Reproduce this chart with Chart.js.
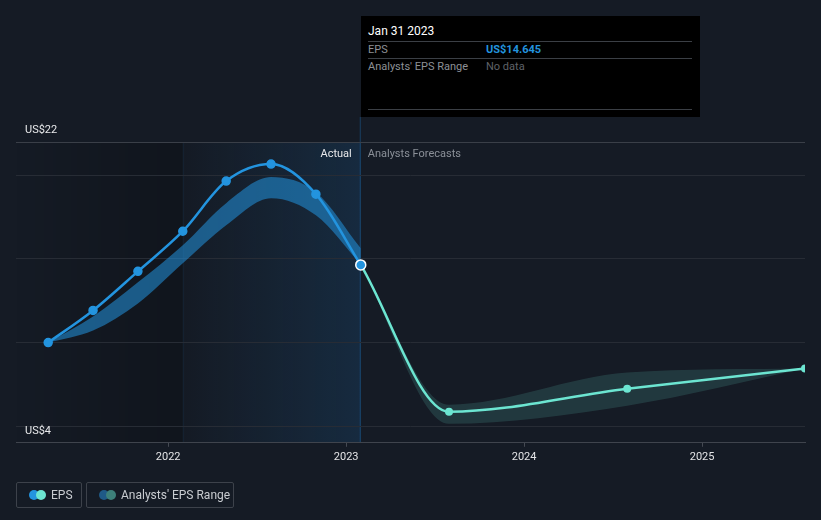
<!DOCTYPE html>
<html>
<head>
<meta charset="utf-8">
<script src="https://cdn.jsdelivr.net/npm/chart.js@4/dist/chart.umd.min.js"></script>
<style>
  html, body { margin: 0; padding: 0; background: #151b25; }
  body { width: 821px; height: 520px; position: relative; overflow: hidden; font-family: Roboto, "Noto Sans", sans-serif; }
  #wrap { position: absolute; left: 0; top: 0; width: 821px; height: 520px; }
  .tip { position: absolute; left: 361px; top: 16px; width: 339px; height: 101px; background: #000; font-size: 11px; }
  .tip .row { position: absolute; left: 7px; width: 324px; }
  .tip .line { position: absolute; left: 7px; width: 324px; height: 1px; background: #3b3f45; }
  .tip .val { position: absolute; left: 118px; }
  .legend { position: absolute; top: 482px; height: 26px; border: 1px solid #3d424b; border-radius: 2px; box-sizing: border-box; color: #c9ccd1; font-size: 12px; line-height: 24px; }
  .dots { position: absolute; left: 12px; top: 7px; width: 20px; height: 10px; }
  .dots i { position: absolute; top: 0; width: 10px; height: 10px; border-radius: 50%; }
</style>
</head>
<body>
<div id="wrap"><canvas id="chart" width="821" height="520"></canvas></div>

<div class="tip">
  <div class="row" style="top:8px;color:#fff;font-size:12px;">Jan 31 2023</div>
  <div class="line" style="top:25px"></div>
  <div class="row" style="top:27px;color:#8d9096;">EPS<span class="val" style="color:#2394df;font-weight:bold;">US$14.645</span></div>
  <div class="line" style="top:42px"></div>
  <div class="row" style="top:44px;color:#8d9096;">Analysts' EPS Range<span class="val" style="color:#5f6268;">No data</span></div>
  <div class="line" style="top:93px"></div>
</div>

<div class="legend" style="left:16px;width:66px;">
  <div class="dots"><i style="left:0;background:#2394df"></i><i style="left:7px;background:#6ce5d1"></i></div>
  <span style="position:absolute;left:34px;">EPS</span>
</div>
<div class="legend" style="left:86px;width:148px;">
  <div class="dots"><i style="left:0;background:#1f5a87"></i><i style="left:7px;background:#3d807a"></i></div>
  <span style="position:absolute;left:34px;">Analysts' EPS Range</span>
</div>

<script>
// ---- data ----
var actualDates = ['2021-04-30', '2021-07-31', '2021-10-31', '2022-01-31', '2022-04-30', '2022-07-31', '2022-10-31', '2023-01-31'];
var actualEps = [10.0, 11.92, 14.26, 16.66, 19.66, 20.68, 18.88, 14.645];
var actualLow = [10.0, 10.72, 12.34, 14.74, 17.02, 18.64, 17.62, 14.68];
var actualHigh = [10.0, 11.56, 13.6, 15.82, 18.34, 19.9, 19.0, 15.64];

var forecastDates = ['2023-01-31', '2023-07-31', '2024-07-31', '2025-07-31'];
var forecastEps = [14.645, 5.86, 7.24, 8.44];
var forecastLow = [14.645, 5.14, 6.22, 8.44];
var forecastHigh = [14.645, 6.28, 8.2, 8.44];

var xTickLabels = [2022, 2023, 2024, 2025];
var yGridValues = [5, 10, 15, 20, 22];
var yLabels = [22, 4];
var axisStart = '2021-02-23';
var axisEnd = '2025-07-31';
var highlightStart = '2022-01-31';
var todayDate = '2023-01-31';

function decYear(s) {
  var p = s.split('-').map(Number);
  var t0 = Date.UTC(p[0], 0, 1), t1 = Date.UTC(p[0] + 1, 0, 1);
  return p[0] + (Date.UTC(p[0], p[1] - 1, p[2]) - t0) / (t1 - t0);
}
function pts(dates, vals) {
  return dates.map(function (d, i) { return { x: decYear(d), y: vals[i] }; });
}

var BLUE = '#2394df', TEAL = '#6ce5d1';

var backdrop = {
  id: 'backdrop',
  beforeDraw: function (chart) {
    var c = chart.ctx, a = chart.chartArea, x = chart.scales.x;
    var xh = x.getPixelForValue(decYear(highlightStart));
    var xt = x.getPixelForValue(decYear(todayDate));
    c.save();
    var g1 = c.createLinearGradient(a.left, 0, xh, 0);
    g1.addColorStop(0, 'rgba(0,0,0,0)');
    g1.addColorStop(1, 'rgba(0,0,0,0.22)');
    c.fillStyle = g1;
    c.fillRect(a.left, a.top, xh - a.left, a.bottom - a.top);
    var g2 = c.createLinearGradient(xh, 0, xt, 0);
    g2.addColorStop(0, 'rgba(33,150,243,0.0)');
    g2.addColorStop(1, 'rgba(33,150,243,0.13)');
    c.fillStyle = g2;
    c.fillRect(xh, a.top, xt - xh, a.bottom - a.top);
    c.fillStyle = 'rgba(33,150,243,0.07)';
    c.fillRect(xh, a.top, 1, a.bottom - a.top);
    c.fillStyle = 'rgba(33,150,243,0.3)';
    c.fillRect(xt - 1, 117, 1, a.bottom - 117);
    c.restore();
  },
  afterDraw: function (chart) {
    var c = chart.ctx, y = chart.scales.y, x = chart.scales.x, a = chart.chartArea;
    var xt = x.getPixelForValue(decYear(todayDate));
    c.save();
    c.font = '11px Roboto, "Noto Sans", sans-serif';
    c.textBaseline = 'middle';
    c.fillStyle = '#e8e9eb';
    c.textAlign = 'left';
    yLabels.forEach(function (v) {
      c.fillText('US$' + v, a.left + 9, y.getPixelForValue(v) - 12);
    });
    c.textAlign = 'right';
    c.fillText('Actual', xt - 9, a.top + 12);
    c.textAlign = 'left';
    c.fillStyle = '#8b9098';
    c.fillText('Analysts Forecasts', xt + 7, a.top + 12);
    c.restore();
  }
};

new Chart(document.getElementById('chart').getContext('2d'), {
  type: 'line',
  data: {
    datasets: [
      { data: pts(actualDates, actualEps), borderColor: BLUE, backgroundColor: BLUE, borderWidth: 2.5, fill: false, order: 0,
        pointRadius: function (ctx) { return ctx.dataIndex === actualEps.length - 1 ? 5 : 4; },
        pointBorderColor: function (ctx) { return ctx.dataIndex === actualEps.length - 1 ? '#ffffff' : BLUE; },
        pointBorderWidth: 1.5 },
      { data: pts(forecastDates, forecastEps), borderColor: TEAL, backgroundColor: TEAL, borderWidth: 2.5, fill: false, order: 1, clip: 0,
        pointRadius: function (ctx) { return ctx.dataIndex === 0 ? 0 : 4; }, pointBorderWidth: 0 },
      { data: pts(actualDates, actualHigh), borderWidth: 0, pointRadius: 0, fill: '+1', backgroundColor: 'rgba(35,148,223,0.55)', order: 2 },
      { data: pts(actualDates, actualLow), borderWidth: 0, pointRadius: 0, fill: false, order: 3 },
      { data: pts(forecastDates, forecastHigh), borderWidth: 0, pointRadius: 0, fill: '+1', backgroundColor: 'rgba(108,229,209,0.15)', order: 4 },
      { data: pts(forecastDates, forecastLow), borderWidth: 0, pointRadius: 0, fill: false, order: 5 }
    ]
  },
  options: {
    responsive: false,
    animation: false,
    events: [],
    datasets: { line: { cubicInterpolationMode: 'monotone' } },
    layout: { padding: { left: 16, right: 16, top: 142, bottom: 52 } },
    plugins: { legend: { display: false }, tooltip: { enabled: false } },
    scales: {
      x: {
        type: 'linear',
        min: decYear(axisStart),
        max: decYear(axisEnd),
        afterBuildTicks: function (s) { s.ticks = xTickLabels.map(function (v) { return { value: v }; }); },
        grid: { drawOnChartArea: false, drawTicks: true, tickLength: 4, color: '#454a53' },
        border: { color: '#3f444d', width: 1 },
        ticks: { color: '#e3e4e6', font: { family: 'Roboto', size: 11 }, padding: 4, maxRotation: 0,
                 callback: function (v) { return String(v); } }
      },
      y: {
        min: 4,
        max: 22,
        afterBuildTicks: function (s) { s.ticks = yGridValues.map(function (v) { return { value: v }; }); },
        ticks: { display: false },
        border: { display: false },
        grid: { drawTicks: false, color: function (ctx) { return ctx.tick && ctx.tick.value === 22 ? '#3a3f48' : '#272c35'; } }
      }
    }
  },
  plugins: [backdrop]
});
</script>
</body>
</html>
